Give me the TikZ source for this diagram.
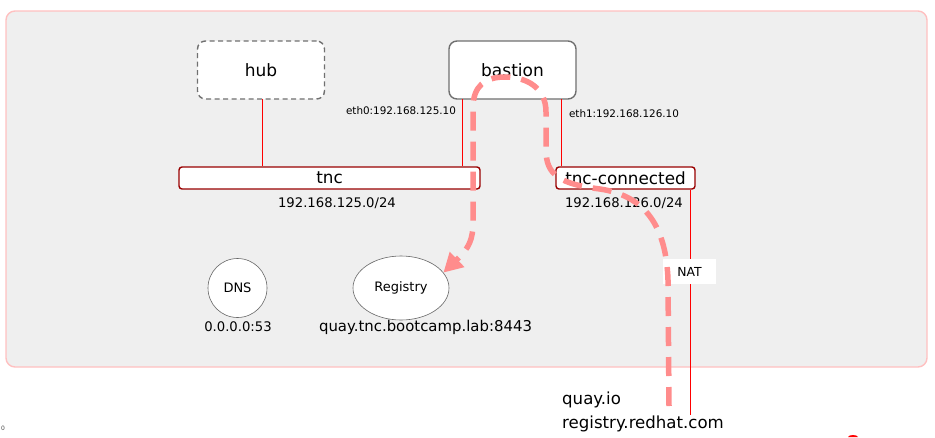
\documentclass[tikz,border=0pt]{standalone}
\usepackage{fontspec}
\setmainfont{DejaVu Sans}
\usetikzlibrary{arrows.meta,shapes.geometric}
\definecolor{panel}{HTML}{EFEFEF}
\definecolor{panelline}{HTML}{FFC0C0}
\definecolor{boxline}{HTML}{707070}
\definecolor{barline}{HTML}{990000}
\definecolor{wire}{HTML}{FF0000}
\definecolor{flow}{HTML}{FF8C8C}
\tikzset{
  hostbox/.style={draw=boxline, line width=1.4pt, fill=white, rounded corners=8pt, minimum width=127pt, minimum height=58pt, inner sep=0pt, font=\fontsize{17}{18}\selectfont},
  netbar/.style={draw=barline, line width=1.4pt, fill=white, rounded corners=3pt, minimum height=22pt, inner sep=0pt, font=\fontsize{16.8}{18}\selectfont},
  wireline/.style={draw=wire, line width=0.8pt},
  svc/.style={draw=black!60, line width=0.6pt, fill=white, inner sep=0pt, font=\fontsize{13}{14}\selectfont},
  caption/.style={inner sep=0pt, font=\fontsize{13.2}{15}\selectfont},
  small/.style={inner sep=0pt, font=\fontsize{10.4}{12}\selectfont},
  flowline/.style={draw=flow, line width=5.5pt, dash pattern=on 19pt off 11pt},
}
\begin{document}
\begin{tikzpicture}[x=1pt,y=-1pt]
\useasboundingbox (0,0) rectangle (935,437);
% panel
\draw[panelline, fill=panel, line width=1.4pt, rounded corners=9pt] (6,11) rectangle (927,367);

% hosts
\node[hostbox, dashed, dash pattern=on 5pt off 3.5pt] (hub) at (261,70) {hub};
\node[hostbox] (bastion) at (512.5,70) {bastion};

% networks
\node[netbar, minimum width=301pt] (tnc) at (329.5,178) {tnc};
\node[netbar, minimum width=139pt] (tncc) at (625.5,178) {tnc-connected};
\node[caption] (net1) at (337,203) {192.168.125.0/24};
\node[caption] (net2) at (624,203) {192.168.126.0/24};

% wires
\coordinate (hubw) at (262,99);
\coordinate (e0top) at (462,99);
\coordinate (e1top) at (561,99);
\coordinate (natend) at (690,415);
\draw[wireline] (hubw) -- (hubw |- tnc.north);
\draw[wireline] (e0top) -- (e0top |- tnc.north);
\draw[wireline] (e1top) -- (e1top |- tncc.north);
\draw[wireline] (natend |- tncc.south) -- (natend);
\node[small] (eth0) at (401,111) {eth0:192.168.125.10};
\node[small] (eth1) at (624,114) {eth1:192.168.126.10};
\node[fill=white, minimum width=53pt, minimum height=25pt, inner sep=0pt, font=\fontsize{12.4}{14}\selectfont] (nat) at (689.5,271.5) {NAT};

% services
\node[svc, circle, minimum size=59pt] (dns) at (237.5,288) {DNS};
\node[svc, ellipse, minimum width=96pt, minimum height=64pt] (reg) at (401,288) {Registry};
\node[caption] (dnsaddr) at (238,327) {0.0.0.0:53};
\node[caption, font=\fontsize{14.9}{16}\selectfont] (regaddr) at (425.5,327) {quay.tnc.bootcamp.lab:8443};

% external
\node[anchor=west, inner sep=0pt, align=left, font=\fontsize{16.6}{24}\selectfont] (ext) at (562,412) {quay.io\\registry.redhat.com};

% flow
\coordinate (fstart) at (669,406);
\draw[flowline, -{Triangle[length=19pt,width=20pt]}]
  (fstart) -- (668,280)
  .. controls (666,220) and (640,195) .. (600,189)
  .. controls (560,184) and (546,175) .. (546,150)
  -- (546,112)
  .. controls (546,88) and (527,77) .. (505,77)
  .. controls (485,77) and (473,86) .. (473,108)
  -- (473,222)
  .. controls (473,240) and (469,248) .. (reg.20);

% small marks
\node[inner sep=0pt, font=\fontsize{6}{7}\selectfont, text=black!70] (zero) at (3,428) {0};
\fill[wire] (848,437) arc[start angle=180, end angle=0, x radius=5pt, y radius=2pt] -- cycle;
\end{tikzpicture}
\end{document}
